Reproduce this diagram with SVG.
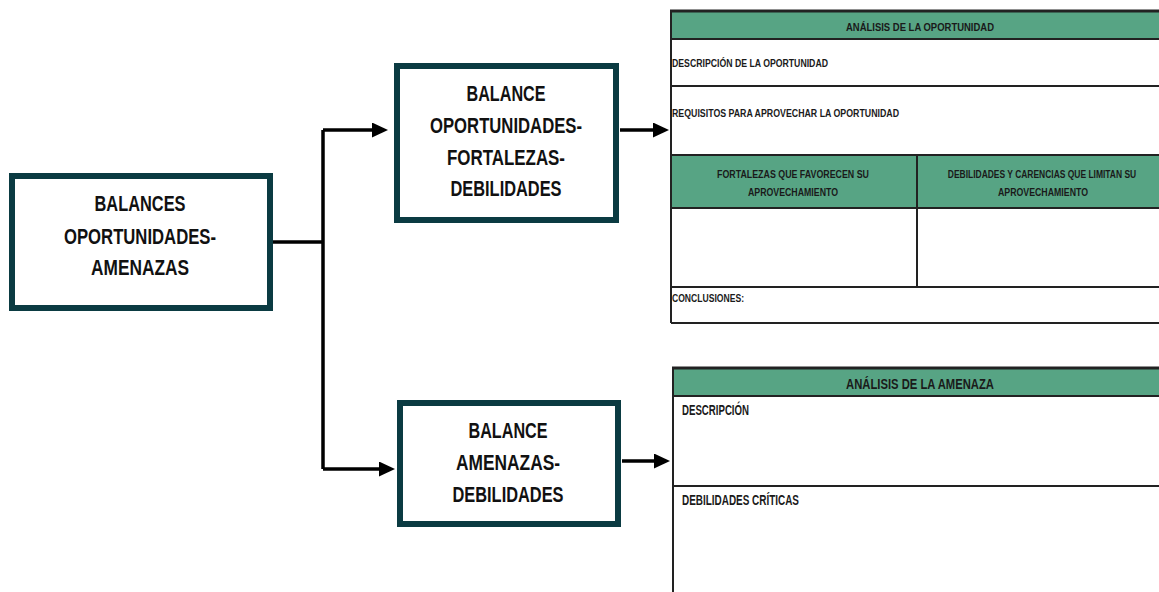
<svg xmlns="http://www.w3.org/2000/svg" width="1159" height="592" viewBox="0 0 1159 592">
<defs>
<style>
.box{fill:#fff;stroke:#0b3b42;stroke-width:6}
.bt{font-family:"Liberation Sans",Arial,sans-serif;font-weight:bold;font-size:22px;fill:#111;text-anchor:middle}
.conn{fill:none;stroke:#000;stroke-width:3.5}
.hdr{fill:#57a484}
.ln{stroke:#222;stroke-width:2;fill:none}
.t1{font-family:"Liberation Sans",Arial,sans-serif;font-weight:bold;font-size:11px;fill:#1a1a1a}
.t2{font-family:"Liberation Sans",Arial,sans-serif;font-weight:bold;font-size:14px;fill:#1a1a1a}
.mid{text-anchor:middle}
</style>
<marker id="arr" markerUnits="userSpaceOnUse" markerWidth="16" markerHeight="16" refX="1" refY="7.5" orient="auto">
<path d="M0,0 L16,7.5 L0,15 Z" fill="#000"/>
</marker>
</defs>
<rect width="1159" height="592" fill="#fff"/>

<g id="connectors">
<path class="conn" d="M272,242 H323 M323,130 V469"/>
<path class="conn" d="M323,130 H373" marker-end="url(#arr)"/>
<path class="conn" d="M323,469 H380" marker-end="url(#arr)"/>
<path class="conn" d="M620,130 H654" marker-end="url(#arr)"/>
<path class="conn" d="M622,461 H655" marker-end="url(#arr)"/>
</g>

<g id="node-balances">
<rect class="box" x="12" y="176" width="258" height="132"/>
<text class="bt" x="140" y="211" textLength="91" lengthAdjust="spacingAndGlyphs">BALANCES</text>
<text class="bt" x="140" y="244" textLength="152" lengthAdjust="spacingAndGlyphs">OPORTUNIDADES-</text>
<text class="bt" x="140" y="275" textLength="98" lengthAdjust="spacingAndGlyphs">AMENAZAS</text>
</g>

<g id="node-balance-ofd">
<rect class="box" x="397" y="66" width="219" height="154"/>
<text class="bt" x="506" y="101" textLength="79" lengthAdjust="spacingAndGlyphs">BALANCE</text>
<text class="bt" x="506" y="133" textLength="152" lengthAdjust="spacingAndGlyphs">OPORTUNIDADES-</text>
<text class="bt" x="506" y="165" textLength="118" lengthAdjust="spacingAndGlyphs">FORTALEZAS-</text>
<text class="bt" x="506" y="196" textLength="111" lengthAdjust="spacingAndGlyphs">DEBILIDADES</text>
</g>

<g id="node-balance-ad">
<rect class="box" x="400" y="403" width="218" height="121"/>
<text class="bt" x="508" y="438" textLength="79" lengthAdjust="spacingAndGlyphs">BALANCE</text>
<text class="bt" x="508" y="470" textLength="104" lengthAdjust="spacingAndGlyphs">AMENAZAS-</text>
<text class="bt" x="508" y="502" textLength="111" lengthAdjust="spacingAndGlyphs">DEBILIDADES</text>
</g>

<g id="node-analisis-oportunidad">
<rect class="hdr" x="671" y="11" width="488" height="28"/>
<rect class="hdr" x="671" y="155" width="488" height="53"/>
<path class="ln" d="M671,39 H1159 M671,86 H1159 M671,155 H1159 M671,208 H1159 M671,287 H1159 M671,323 H1159 M671,11 V323 M917,155 V287"/>
<line x1="670" y1="11" x2="1159" y2="11" stroke="#222" stroke-width="3"/>
<text class="t1 mid" x="920" y="31" textLength="148" lengthAdjust="spacingAndGlyphs">ANÁLISIS DE LA OPORTUNIDAD</text>
<text class="t1" x="672" y="67" textLength="156" lengthAdjust="spacingAndGlyphs">DESCRIPCIÓN DE LA OPORTUNIDAD</text>
<text class="t1" x="672" y="117" textLength="227" lengthAdjust="spacingAndGlyphs">REQUISITOS PARA APROVECHAR LA OPORTUNIDAD</text>
<text class="t1 mid" x="793" y="178" textLength="152" lengthAdjust="spacingAndGlyphs">FORTALEZAS QUE FAVORECEN SU</text>
<text class="t1 mid" x="793" y="196" textLength="90" lengthAdjust="spacingAndGlyphs">APROVECHAMIENTO</text>
<text class="t1 mid" transform="translate(1042,178) scale(0.77,1)" x="0" y="0">DEBILIDADES Y CARENCIAS QUE LIMITAN SU</text>
<text class="t1 mid" x="1043" y="196" textLength="90" lengthAdjust="spacingAndGlyphs">APROVECHAMIENTO</text>
<text class="t1" x="672" y="302" textLength="72" lengthAdjust="spacingAndGlyphs">CONCLUSIONES:</text>
</g>

<g id="node-analisis-amenaza">
<rect class="hdr" x="673" y="368" width="486" height="28"/>
<path class="ln" d="M673,396 H1159 M673,486 H1159 M673,368 V592"/>
<line x1="672" y1="368" x2="1159" y2="368" stroke="#222" stroke-width="3"/>
<text class="t2 mid" x="920" y="389" textLength="148" lengthAdjust="spacingAndGlyphs">ANÁLISIS DE LA AMENAZA</text>
<text class="t2" x="682" y="415" font-size="12" textLength="67" lengthAdjust="spacingAndGlyphs">DESCRIPCIÓN</text>
<text class="t2" x="682" y="505" font-size="12" textLength="117" lengthAdjust="spacingAndGlyphs">DEBILIDADES CRÍTICAS</text>
</g>
</svg>
